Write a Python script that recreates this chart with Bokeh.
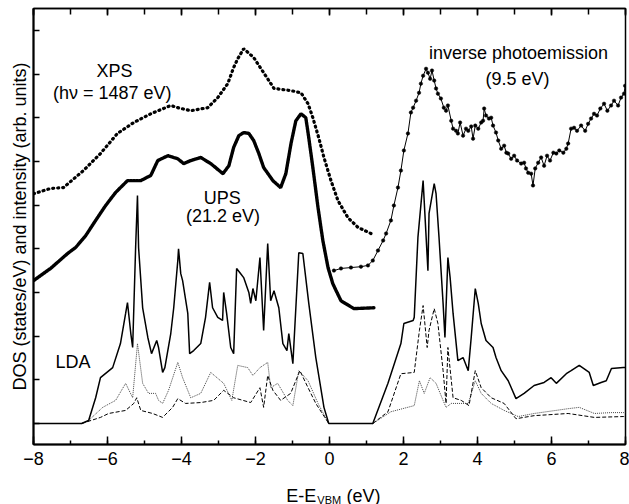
from bokeh.plotting import figure
from bokeh.models import Range1d, LinearAxis, SingleIntervalTicker, Label
from bokeh.layouts import column
from bokeh.embed import file_html
from bokeh.resources import INLINE

FONT = "Liberation Sans"

# ---------------- data (E - E_VBM in eV, intensity / DOS in arb. units) ----------------
xps_e = [-8.00, -7.54, -7.19, -6.65, -6.19, -5.73, -5.29, -4.83, -4.29, -4.10, -3.75, -3.29, -3.02,
         -2.75, -2.59, -2.48, -2.32, -2.05, -1.78, -1.50, -1.04, -0.77, -0.58, -0.45, -0.29, -0.15,
         0.04, 0.23, 0.50, 0.77, 1.12]
xps_y = [5.26, 5.38, 5.40, 5.79, 6.18, 6.64, 6.89, 7.09, 7.28, 7.23, 7.16, 7.23, 7.46,
         7.78, 8.15, 8.35, 8.58, 8.38, 8.03, 7.67, 7.62, 7.57, 7.32, 7.00, 6.54, 6.09,
         5.56, 5.10, 4.71, 4.49, 4.35]

ups_e = [-8.00, -7.54, -7.08, -6.86, -6.59, -6.32, -6.05, -5.78, -5.46, -5.10,
         -4.83, -4.64, -4.37, -4.10, -3.94, -3.75, -3.48, -3.21, -2.88, -2.72,
         -2.59, -2.45, -2.32, -2.18, -2.05, -1.91, -1.78, -1.53, -1.32, -1.18,
         -1.04, -0.91, -0.77, -0.64, -0.56, -0.45, -0.31, -0.18, -0.04, 0.09,
         0.31, 0.66, 1.20]
ups_y = [3.27, 3.55, 3.89, 4.03, 4.30, 4.65, 4.99, 5.29, 5.56, 5.56,
         5.68, 6.02, 6.13, 6.06, 5.95, 6.02, 6.09, 5.95, 5.72, 5.90,
         6.32, 6.59, 6.66, 6.64, 6.48, 6.18, 5.86, 5.56, 5.40, 5.72,
         6.41, 6.93, 7.09, 7.00, 6.54, 5.86, 4.94, 4.19, 3.57, 3.20,
         2.81, 2.63, 2.65]

ipes_e = [0.12, 0.31, 0.58, 0.85, 1.04, 1.17, 1.31, 1.45, 1.53, 1.66,
          1.74, 1.85, 1.93, 2.01, 2.12, 2.20, 2.26, 2.34, 2.42, 2.47,
          2.53, 2.61, 2.66, 2.72, 2.77, 2.83, 2.88, 2.93, 3.01, 3.09,
          3.15, 3.20, 3.29, 3.34, 3.42, 3.47, 3.53, 3.61, 3.69, 3.75,
          3.83, 3.88, 3.94, 4.02, 4.10, 4.15, 4.18, 4.23, 4.31, 4.37,
          4.42, 4.50, 4.56, 4.64, 4.72, 4.78, 4.83, 4.91, 4.99, 5.07,
          5.18, 5.26, 5.31, 5.37, 5.45, 5.50, 5.56, 5.64, 5.72, 5.80,
          5.88, 5.96, 6.05, 6.13, 6.21, 6.32, 6.40, 6.45, 6.53, 6.61,
          6.69, 6.80, 6.91, 6.99, 7.07, 7.15, 7.23, 7.32, 7.42, 7.51,
          7.61, 7.69, 7.80, 7.88, 7.96, 7.99]
ipes_y = [3.50, 3.55, 3.57, 3.59, 3.62, 3.73, 3.96, 4.19, 4.35, 4.65,
          4.99, 5.40, 5.79, 6.25, 6.64, 7.12, 7.23, 7.39, 7.57, 7.78,
          7.96, 8.12, 8.03, 7.89, 8.08, 7.85, 7.67, 7.55, 7.44, 7.23,
          7.16, 7.28, 6.93, 6.75, 6.70, 6.64, 6.89, 6.59, 6.75, 6.70,
          6.80, 6.52, 6.82, 6.75, 6.89, 6.93, 7.21, 7.05, 6.98, 7.00,
          6.82, 6.66, 6.48, 6.29, 6.36, 6.20, 6.18, 6.06, 6.13, 6.02,
          5.95, 5.97, 5.84, 5.74, 5.72, 5.45, 5.84, 5.97, 6.09, 5.90,
          6.13, 6.02, 6.20, 6.18, 6.25, 6.20, 6.29, 6.41, 6.75, 6.77,
          6.70, 6.82, 6.70, 6.86, 6.98, 7.09, 7.05, 7.21, 7.32, 7.16,
          7.28, 7.39, 7.28, 7.46, 7.55, 7.73]

# LDA total DOS: valence band part and conduction band part
ldav_e = [-8.00, -6.70, -6.51, -6.32, -6.19, -5.86, -5.65, -5.51, -5.46, -5.37,
          -5.32, -5.24, -5.19, -5.16, -5.05, -4.91, -4.81, -4.67, -4.62, -4.51,
          -4.45, -4.29, -4.21, -4.10, -4.08, -4.02, -3.97, -3.83, -3.78, -3.67,
          -3.48, -3.35, -3.24, -3.16, -3.02, -2.89, -2.86, -2.78, -2.67, -2.59,
          -2.51, -2.40, -2.32, -2.18, -2.13, -2.07, -1.99, -1.88, -1.78, -1.67,
          -1.59, -1.50, -1.37, -1.26, -1.15, -1.10, -0.99, -0.83, -0.72, -0.56,
          -0.37, -0.15, -0.02]
ldav_y = [0.00, 0.00, 0.07, 0.59, 1.05, 1.28, 1.83, 2.52, 2.77, 2.06,
          1.74, 4.03, 5.22, 4.03, 2.65, 1.97, 1.60, 1.90, 1.74, 1.17,
          1.28, 2.06, 2.65, 3.73, 4.00, 3.43, 3.27, 2.52, 1.60, 1.67,
          1.83, 2.43, 3.23, 2.65, 2.43, 2.36, 3.00, 2.52, 1.74, 1.60,
          3.55, 3.43, 3.34, 3.00, 2.75, 3.09, 2.81, 3.80, 2.13, 4.12,
          2.81, 3.04, 2.65, 1.83, 1.67, 2.06, 1.37, 3.91, 3.89, 2.75,
          1.51, 0.37, 0.00]
ldac_e = [1.17, 1.58, 1.93, 2.01, 2.26, 2.29, 2.39, 2.53, 2.66, 2.69,
          2.83, 2.88, 2.96, 3.07, 3.12, 3.20, 3.26, 3.34, 3.47, 3.61,
          3.75, 3.83, 3.94, 4.02, 4.10, 4.23, 4.42, 4.50, 4.64, 4.83,
          5.04, 5.26, 5.53, 5.80, 5.99, 6.13, 6.40, 6.53, 6.75, 7.02,
          7.13, 7.34, 7.48, 7.62, 7.94, 8.00]
ldac_y = [0.00, 0.92, 1.83, 2.29, 2.36, 2.43, 4.26, 5.56, 3.50, 4.81,
          5.49, 5.26, 4.26, 2.75, 1.97, 3.80, 3.34, 2.52, 1.44, 1.51,
          1.21, 1.97, 3.09, 2.75, 2.29, 1.90, 1.74, 1.51, 1.21, 0.98,
          0.57, 0.69, 0.87, 0.94, 1.05, 0.92, 1.14, 1.21, 1.33, 1.17,
          0.87, 0.94, 0.98, 1.26, 1.28, 1.28]

# partial DOS (dotted and dashed)
dotv_e = [-6.70, -6.51, -6.13, -5.78, -5.51, -5.32, -5.19, -5.05, -4.89, -4.70,
          -4.62, -4.51, -4.35, -4.10, -3.97, -3.75, -3.48, -3.21, -2.86, -2.64,
          -2.48, -2.21, -2.07, -1.88, -1.67, -1.59, -1.40, -1.13, -0.99, -0.83,
          -0.58, -0.31, -0.02]
dotv_y = [0.00, 0.07, 0.37, 0.53, 0.92, 0.59, 1.83, 0.92, 0.69, 0.69,
          0.53, 0.46, 0.76, 1.40, 1.05, 0.59, 0.69, 1.17, 0.92, 0.53,
          1.33, 1.28, 1.10, 1.28, 1.40, 0.82, 0.92, 0.53, 0.41, 1.21,
          0.98, 0.46, 0.00]
dashv_e = [-6.70, -6.19, -5.97, -5.51, -5.29, -5.21, -5.10, -4.78, -4.51, -4.24,
           -4.10, -3.89, -3.48, -3.13, -2.86, -2.59, -2.13, -1.88, -1.78, -1.67,
           -1.53, -1.32, -1.05, -0.80, -0.58, -0.37, -0.02]
dashv_y = [0.00, 0.14, 0.23, 0.30, 0.46, 0.59, 0.30, 0.23, 0.14, 0.37,
           0.57, 0.46, 0.48, 0.53, 0.76, 0.59, 0.48, 0.82, 0.37, 1.10,
           0.76, 0.53, 0.69, 1.21, 0.82, 0.46, 0.00]
dashc_e = [1.17, 1.58, 1.93, 2.29, 2.43, 2.53, 2.64, 2.69, 2.83, 2.93,
           3.07, 3.15, 3.20, 3.34, 3.56, 3.77, 3.94, 4.10, 4.37, 4.72,
           5.04, 5.53, 6.45, 7.16, 7.94, 8.00]
dashc_y = [0.00, 0.27, 1.14, 1.17, 2.13, 2.70, 1.74, 2.13, 2.63, 2.29,
           1.21, 0.46, 1.74, 0.59, 0.53, 0.41, 1.21, 0.82, 0.59, 0.46,
           0.11, 0.18, 0.23, 0.14, 0.16, 0.16]
dotc_e = [1.17, 1.66, 2.29, 2.43, 2.56, 2.72, 2.88, 3.07, 3.15, 3.29,
          3.75, 3.94, 4.10, 4.37, 4.72, 5.10, 5.53, 6.45, 6.75, 7.16,
          7.61, 7.94, 8.00]
dotc_y = [0.00, 0.27, 0.41, 0.98, 0.69, 1.05, 0.92, 0.53, 0.37, 0.46,
          0.46, 0.98, 0.69, 0.46, 0.30, 0.16, 0.23, 0.34, 0.37, 0.23,
          0.25, 0.25, 0.25]

# ---------------- main figure ----------------
p = figure(width=629, height=480, output_backend="svg", toolbar_location=None,
           x_range=Range1d(-8, 8), y_range=Range1d(-0.48, 9.5),
           x_axis_location=None, y_axis_location=None,
           min_border_left=33, min_border_right=4, min_border_top=8, min_border_bottom=36)
p.background_fill_color = "white"
p.border_fill_color = "white"
p.outline_line_color = "black"
p.outline_line_width = 1.5
for g in p.grid:
    g.visible = False

# bottom axis
xb = LinearAxis(ticker=SingleIntervalTicker(interval=2, num_minor_ticks=2))
xb.axis_line_width = 2
xb.major_tick_in = 8
xb.major_tick_out = 0
xb.minor_tick_in = 4
xb.minor_tick_out = 0
xb.major_tick_line_width = 1.5
xb.minor_tick_line_width = 1.5
xb.major_label_text_font = FONT
xb.major_label_text_font_size = "18px"
xb.major_label_text_color = "black"
xb.major_label_standoff = 7
p.add_layout(xb, "below")

# top axis (ticks only)
xt = LinearAxis(ticker=SingleIntervalTicker(interval=2, num_minor_ticks=2))
xt.axis_line_width = 1.5
xt.major_tick_in = 7
xt.major_tick_out = 0
xt.minor_tick_in = 6
xt.minor_tick_out = 0
xt.major_tick_line_width = 1.5
xt.minor_tick_line_width = 1.5
xt.major_label_text_font_size = "1px"
xt.major_label_text_color = None
xt.major_label_standoff = 0
p.add_layout(xt, "above")

# left axis (ticks only + title)
yl = LinearAxis(ticker=SingleIntervalTicker(interval=1, num_minor_ticks=0))
yl.axis_line_width = 2
yl.major_tick_in = 6
yl.major_tick_out = 0
yl.minor_tick_in = 0
yl.minor_tick_out = 0
yl.major_tick_line_width = 1.5
yl.major_label_text_font_size = "1px"
yl.major_label_text_color = None
yl.major_label_standoff = 0
yl.axis_label = "DOS (states/eV) and intensity (arb. units)"
yl.axis_label_text_font = FONT
yl.axis_label_text_font_size = "18px"
yl.axis_label_text_font_style = "normal"
yl.axis_label_text_color = "black"
yl.axis_label_standoff = 4
p.add_layout(yl, "left")

# ---------------- curves ----------------
# LDA partial DOS
p.line(dotv_e, dotv_y, line_color="#444444", line_width=1, line_dash="1 1")
p.line(dotc_e, dotc_y, line_color="#444444", line_width=1, line_dash="1 1")
p.line(dashv_e, dashv_y, line_color="black", line_width=1, line_dash="4 2")
p.line(dashc_e, dashc_y, line_color="black", line_width=1, line_dash="4 2")
# LDA total DOS
p.line(ldav_e + ldac_e, ldav_y + ldac_y, line_color="black", line_width=1.5)

# XPS (dotted data points)
p.line(xps_e, xps_y, line_color="black", line_width=3.2, line_dash="1 4", line_cap="round")
# UPS (dense data points)
p.line(ups_e, ups_y, line_color="black", line_width=3.4, line_dash="2 1", line_cap="round")
# inverse photoemission
p.line(ipes_e, ipes_y, line_color="black", line_width=1)
p.scatter(ipes_e, ipes_y, size=3.5, fill_color="black", line_color="black", line_width=0.5)

# ---------------- texts ----------------
def lab(fig, x, y, t, size="18px", align="center"):
    fig.add_layout(Label(x=x, y=y, text=t, text_font=FONT, text_font_size=size,
                         text_align=align, text_baseline="alphabetic", text_color="black"))

lab(p, -5.81, 8.08, "XPS")
lab(p, -5.87, 7.57, "(h\u03bd = 1487 eV)")
lab(p, -2.90, 5.17, "UPS")
lab(p, -2.88, 4.76, "(21.2 eV)")
lab(p, 5.11, 8.49, "inverse photoemission")
lab(p, 5.08, 7.89, "(9.5 eV)")
lab(p, -6.93, 1.40, "LDA")

# ---------------- x-axis title strip (E-E_VBM with subscript) ----------------
t = figure(width=629, height=24, output_backend="svg", toolbar_location=None,
           x_range=p.x_range, y_range=Range1d(0, 24),
           x_axis_location=None, y_axis_location=None,
           min_border_left=33, min_border_right=4, min_border_top=0, min_border_bottom=0)
t.outline_line_color = None
t.background_fill_color = "white"
t.border_fill_color = "white"
for g in t.grid:
    g.visible = False
lab(t, -0.36, 9, "E-E", align="right")
lab(t, -0.33, 5, "VBM", size="11px", align="left")
lab(t, 0.46, 9, "(eV)", align="left")

layout = column(p, t, spacing=0)
open("out.html", "w").write(file_html(layout, INLINE))
